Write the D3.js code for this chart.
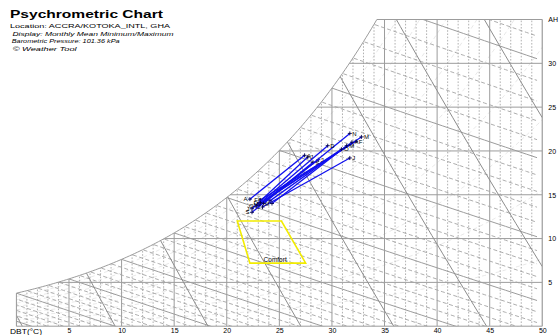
<!DOCTYPE html>
<html>
<head>
<meta charset="utf-8">
<script src="https://cdn.jsdelivr.net/npm/d3@7"></script>
<style>
  html, body { margin: 0; padding: 0; background: #fff; }
  svg { display: block; }
  text { font-family: "Liberation Sans", Arial, sans-serif; fill: #000; }
</style>
</head>
<body>
<svg id="chart" width="559" height="335"></svg>
<script>
// ---- chart data -------------------------------------------------------
const pressure = 101.36; // kPa
const dbtTicks = [5, 10, 15, 20, 25, 30, 35, 40, 45, 50];
const ahTicks = [5, 10, 15, 20, 25, 30];
const dbtDomain = [0, 50];
const ahDomain = [0, 35];

const months = ["J", "F", "M", "A", "M", "J", "J", "A", "S", "O", "N", "D"];
// monthly mean minimum (DBT °C, AH g/kg)
const minDBT = [23.4, 23.2, 23.7, 24.1, 24.3, 23.0, 22.4, 22.2, 22.4, 22.8, 23.5, 23.2];
const minAH  = [13.6, 14.4, 14.4, 14.3, 14.0, 13.8, 13.4, 14.5, 13.0, 13.7, 14.0, 14.1];
// monthly mean maximum (DBT °C, AH g/kg)
const maxDBT = [31.7, 32.3, 32.8, 31.9, 31.4, 28.7, 27.7, 27.4, 28.2, 30.9, 31.7, 29.6];
const maxAH  = [19.2, 21.1, 21.6, 21.0, 20.6, 19.0, 19.3, 19.5, 18.7, 20.2, 22.0, 20.6];

// comfort zone outline
const comfortDBT = [21.0, 25.2, 27.5, 22.2];
const comfortAH  = [12.0, 12.0, 7.2, 7.2];

const wbtLines = d3.range(-6, 37);                 // wet bulb / enthalpy lines, °C
const volLines = [0.775, 0.8, 0.825, 0.85, 0.875, 0.9, 0.925, 0.95]; // m³/kg
const rhLines = [0.1, 0.2, 0.3, 0.4, 0.5, 0.6, 0.7, 0.8, 0.9];

const headerLines = [
  "Location: ACCRA/KOTOKA_INTL, GHA",
  "Display: Monthly Mean Minimum/Maximum",
  "Barometric Pressure: 101.36 kPa",
  "\u00A9 Weather Tool"
];

// ---- psychrometric relations ----------------------------------------
const pws = T => 0.61078 * Math.exp(17.27 * T / (T + 237.3));
const wRH = (T, rh) => { const p = rh * pws(T); return 622 * p / (pressure - p); };
const wSat = T => wRH(T, 1);
const hSat = t => 1.006 * t + wSat(t) / 1000 * (2501 + 1.86 * t);
const wEnth = (T, h) => 1000 * (h - 1.006 * T) / (2501 + 1.86 * T);
const wVol = (T, v) => 1000 * (v * pressure / (0.287 * (T + 273.15)) - 1) / 1.608;

// temperature where saturation reaches the top of the chart
let lo = 0, hi = 50;
for (let i = 0; i < 60; i++) { const m = (lo + hi) / 2; if (wSat(m) < ahDomain[1]) lo = m; else hi = m; }
const tTop = lo;

// ---- layout -----------------------------------------------------------
const svg = d3.select("#chart");
const x = d3.scaleLinear().domain(dbtDomain).range([16.4, 542.3]);
const y = d3.scaleLinear().domain(ahDomain).range([326.2, 19.5]);
const line = d3.line().x(d => x(d[0])).y(d => y(d[1]));
const grey = "#9c9c9c";

svg.append("rect").attr("width", 559).attr("height", 335).attr("fill", "#fff");

// chart region: below the saturation curve, inside the frame
const satPts = d3.range(0, tTop, 0.25).map(t => [t, wSat(t)]).concat([[tTop, ahDomain[1]]]);
const region = [[0, 0]].concat(satPts, [[50, 35], [50, 0]]);
svg.append("clipPath").attr("id", "region")
  .append("path").attr("d", line(region) + "Z");

const g = svg.append("g").attr("clip-path", "url(#region)");

// relative humidity curves (faint)
rhLines.forEach(rh => {
  const pts = d3.range(0, 50.01, 0.5).map(t => [t, wRH(t, rh)]);
  g.append("path").attr("d", line(pts)).attr("fill", "none")
    .attr("stroke", "#e2e2e2").attr("stroke-width", 0.8).attr("stroke-dasharray", "4,3");
});

// dry bulb verticals
d3.range(0, 51).forEach(t => {
  const major = t % 5 === 0;
  g.append("path").attr("d", line([[t, 0], [t, Math.min(wSat(t), 35)]]))
    .attr("stroke", major ? grey : "#a8a8a8").attr("stroke-width", major ? 1 : 0.9)
    .attr("stroke-dasharray", major ? null : "1.6,1.6").attr("fill", "none");
});

// absolute humidity horizontals
ahTicks.forEach(w => {
  g.append("path").attr("d", line([[0, w], [50, w]]))
    .attr("stroke", grey).attr("stroke-width", 1).attr("fill", "none");
});

// wet bulb (constant enthalpy) lines
wbtLines.forEach(t => {
  const h = hSat(t);
  const pts = d3.range(t - 0.5, 50.01, 1).map(T => [T, wEnth(T, h)]);
  const major = t % 5 === 0;
  g.append("path").attr("d", line(pts)).attr("fill", "none")
    .attr("stroke", major ? grey : "#a4a4a4").attr("stroke-width", major ? 1 : 0.9)
    .attr("stroke-dasharray", major ? null : "4,2.5");
});

// specific volume lines
volLines.forEach(v => {
  const pts = d3.range(-5, 50.01, 0.5).map(T => [T, wVol(T, v)]);
  g.append("path").attr("d", line(pts)).attr("fill", "none")
    .attr("stroke", "#8c8c8c").attr("stroke-width", 1);
});

// frame: saturation curve, top, right edge, bottom, left edge
svg.append("path").attr("d", line(region) + "Z").attr("fill", "none")
  .attr("stroke", grey).attr("stroke-width", 1);

// ---- axes -------------------------------------------------------------
const fs = 7;
const xAxis = svg.append("g").attr("transform", `translate(0,${y(0)})`)
  .call(d3.axisBottom(x).tickValues(dbtTicks).tickSize(0).tickPadding(2).tickFormat(d3.format("d")));
xAxis.select(".domain").remove();
xAxis.selectAll("text").attr("font-size", fs).attr("dy", "0.71em")
  .attr("font-family", "Liberation Sans, Arial, sans-serif").attr("fill", "#000");

const yAxis = svg.append("g").attr("transform", `translate(${x(50)},0)`)
  .call(d3.axisRight(y).tickValues(ahTicks).tickSize(0).tickPadding(6).tickFormat(d3.format("d")));
yAxis.select(".domain").remove();
yAxis.selectAll("text").attr("font-size", fs)
  .attr("font-family", "Liberation Sans, Arial, sans-serif").attr("fill", "#000");

svg.append("text").attr("x", 10).attr("y", 334).attr("font-size", fs)
  .attr("textLength", 32).attr("lengthAdjust", "spacingAndGlyphs").text("DBT(\u00B0C)");
svg.append("text").attr("x", x(50) + 6).attr("y", y(35) + 2).attr("font-size", fs).text("AH");

// ---- comfort zone -----------------------------------------------------
const comfort = comfortDBT.map((t, i) => [t, comfortAH[i]]);
svg.append("path").attr("d", line(comfort) + "Z").attr("fill", "none")
  .attr("stroke", "#f2ec00").attr("stroke-width", 1.6);
svg.append("text").attr("x", x(24.6)).attr("y", y(comfortAH[2]) - 1.5)
  .attr("font-size", 6.5).attr("text-anchor", "middle").text("Comfort");

// ---- monthly min/max lines -------------------------------------------
const mg = svg.append("g");
months.forEach((m, i) => {
  const p0 = [x(minDBT[i]), y(minAH[i])];
  const p1 = [x(maxDBT[i]), y(maxAH[i])];
  mg.append("line").attr("x1", p0[0]).attr("y1", p0[1]).attr("x2", p1[0]).attr("y2", p1[1])
    .attr("stroke", "#1010ee").attr("stroke-width", 1.3);
  [p0, p1].forEach(p => {
    mg.append("path").attr("d", `M${p[0] - 2},${p[1]}H${p[0] + 2}M${p[0]},${p[1] - 2}V${p[1] + 2}`)
      .attr("stroke", "#000050").attr("stroke-width", 0.9);
  });
  mg.append("text").attr("x", p0[0] - 2.5).attr("y", p0[1] + 2.2).attr("font-size", 6)
    .attr("text-anchor", "end").text(m);
  mg.append("text").attr("x", p1[0] + 2.5).attr("y", p1[1] + 2.2).attr("font-size", 6).text(m);
});

// ---- header -----------------------------------------------------------
svg.append("text").attr("x", 10).attr("y", 18).attr("font-size", 11).attr("font-weight", "bold")
  .attr("textLength", 153).attr("lengthAdjust", "spacingAndGlyphs").text("Psychrometric Chart");
const hdr = [
  { x: 10, y: 27.5, w: 160, italic: false },
  { x: 12.5, y: 35.5, w: 161, italic: true },
  { x: 11.7, y: 43.3, w: 108, italic: true },
  { x: 12.7, y: 51, w: 64, italic: true }
];
headerLines.forEach((t, i) => {
  svg.append("text").attr("x", hdr[i].x).attr("y", hdr[i].y).attr("font-size", 6.2)
    .attr("font-style", hdr[i].italic ? "italic" : "normal")
    .attr("textLength", hdr[i].w).attr("lengthAdjust", "spacingAndGlyphs").text(t);
});
</script>
</body>
</html>
